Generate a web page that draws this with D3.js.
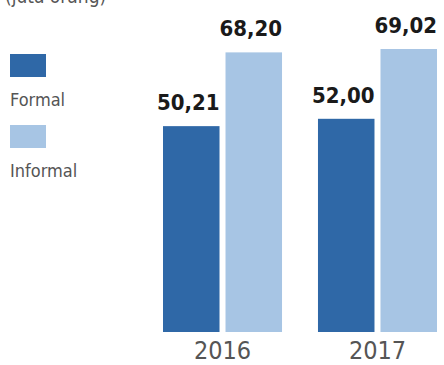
<!DOCTYPE html>
<html>
<head>
<meta charset="utf-8">
<script src="https://cdn.jsdelivr.net/npm/d3@7"></script>
<style>
  body { margin: 0; background: #fff; }
  svg { display: block; }
</style>
</head>
<body>
<svg width="444" height="365"></svg>
<script>
let years = ["2016", "2017"]
let series = ["Formal", "Informal"]
let formal = [50.21, 52.00]
let informal = [68.20, 69.02]
let colors = ["#2f68a7", "#a7c5e4"]

let svg = d3.select("svg")
let narrow = "'Liberation Sans Narrow', 'DejaVu Sans Condensed', 'Roboto', sans-serif"

let data = years.map((y, i) => ({year: y, values: [formal[i], informal[i]]}))

let fmt = d3.formatLocale({decimal: ",", thousands: ".", grouping: [3], currency: ["", ""]}).format(".2f")

let x0 = d3.scaleBand().domain(years).range([163, 437]).paddingInner(0.232)
let x1 = d3.scaleBand().domain(series).range([0, x0.bandwidth()]).paddingInner(0.096)
let y = d3.scaleLinear().domain([0, 70]).range([332, 45])

// unit note, cut off at top like the source
svg.append("text")
  .attr("x", 5).attr("y", 3)
  .style("font-family", narrow)
  .style("font-size", "19px")
  .style("fill", "#555")
  .text("(juta orang)")

let groups = svg.selectAll(".grp")
  .data(data)
  .enter().append("g")
  .attr("class", "grp")
  .attr("transform", d => `translate(${x0(d.year)},0)`)

groups.selectAll("rect")
  .data(d => d.values.map((v, i) => ({key: series[i], v: v, i: i})))
  .enter().append("rect")
  .attr("x", d => x1(d.key))
  .attr("width", x1.bandwidth())
  .attr("y", d => y(d.v))
  .attr("height", d => y(0) - y(d.v))
  .style("fill", d => colors[d.i])

groups.selectAll(".val")
  .data(d => d.values.map((v, i) => ({key: series[i], v: v})))
  .enter().append("text")
  .attr("class", "val")
  .attr("x", d => x1(d.key) + x1.bandwidth() / 2 - 3)
  .attr("y", d => y(d.v) - 16)
  .attr("text-anchor", "middle")
  .style("font-family", narrow)
  .style("font-weight", "bold")
  .style("font-size", "22px")
  .style("fill", "#1a1a1a")
  .text(d => fmt(d.v))

// year axis
let xAxisG = svg.append("g")
  .attr("transform", "translate(0,333)")
  .call(d3.axisBottom(x0).tickSize(0).tickPadding(8))
xAxisG.select(".domain").remove()
xAxisG.selectAll("text")
  .style("font-family", narrow)
  .style("font-size", "25px")
  .style("fill", "#555")
  .attr("dy", "0.71em")

// legend
let legend = svg.selectAll(".leg")
  .data(series)
  .enter().append("g")
  .attr("class", "leg")
  .attr("transform", (d, i) => `translate(10,${54 + i * 71})`)

legend.append("rect")
  .attr("width", 36).attr("height", 23)
  .style("fill", (d, i) => colors[i])

legend.append("text")
  .attr("x", 0).attr("y", 52)
  .style("font-family", narrow)
  .style("font-size", "18px")
  .style("fill", "#555")
  .text(d => d)
</script>
</body>
</html>
